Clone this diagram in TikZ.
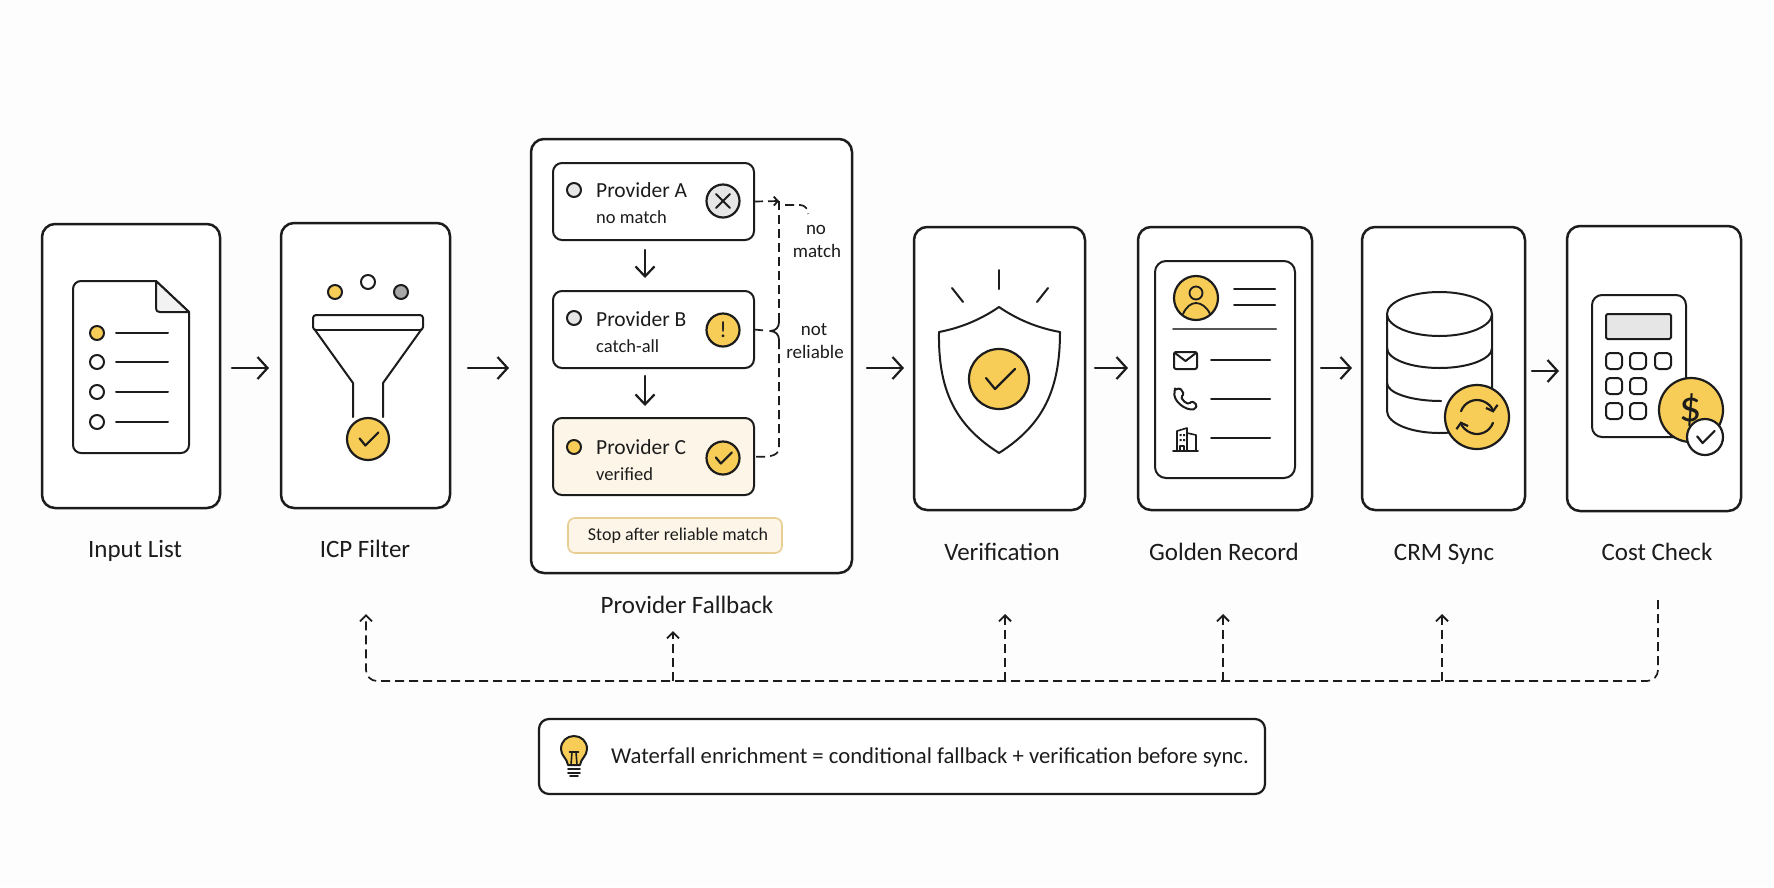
\documentclass[tikz,border=0pt]{standalone}
\usepackage{fontspec}
\setmainfont{Carlito}
\usetikzlibrary{arrows.meta,positioning}
\definecolor{ink}{HTML}{1C1C1C}
\definecolor{gold}{HTML}{F7CD57}
\definecolor{softgray}{HTML}{E6E6E6}
\definecolor{midgray}{HTML}{A8A8A8}
\definecolor{cream}{HTML}{FDF6E8}
\definecolor{creamline}{HTML}{E8CE93}
\definecolor{pagebg}{HTML}{FDFDFD}

\begin{document}
\begin{tikzpicture}[x=1pt,y=-1pt,line join=round,line cap=round]
        \tikzset{stage/.style={draw=ink,
                fill=white,
                line width=2.5pt,
                rounded corners=13pt,
                outer sep=0pt
        }}
        \tikzset{provider/.style={draw=ink,
                fill=white,
                line width=2pt,
                rounded corners=9pt,
                minimum width=201pt,
                minimum height=77pt,
                outer sep=0pt
        }}
        \tikzset{flow/.style={draw=ink,line width=2.2pt,-{Straight Barb[length=10pt,width=22pt,line width=2.2pt]}}}
        \tikzset{innerflow/.style={draw=ink,line width=2.2pt,-{Straight Barb[length=10pt,width=19pt,line width=2.2pt]}}}
        \tikzset{feedback/.style={draw=ink,line width=1.7pt,dash pattern=on 9pt off 5pt,line cap=butt}}
        \tikzset{feedhead/.style={feedback,-{Straight Barb[length=6pt,width=12pt,line width=1.8pt]}}}
        \tikzset{bracket/.style={draw=ink,line width=1.7pt,dash pattern=on 9pt off 5pt,line cap=butt}}
        \tikzset{dotmark/.style={circle,draw=ink,fill=white,line width=2pt,minimum size=14pt,inner sep=0pt}}
        \tikzset{badge/.style={circle,draw=ink,fill=gold,line width=2.2pt,inner sep=0pt,text=ink}}
        \tikzset{caption/.style={anchor=base,text=ink,font=\fontsize{25}{30}\selectfont}}
        \tikzset{title/.style={anchor=base west,inner sep=0pt,text=ink,font=\fontsize{21.5}{26}\selectfont}}
        \tikzset{subtitle/.style={anchor=base west,inner sep=0pt,text=ink,font=\fontsize{18.5}{23}\selectfont}}
        \tikzset{sidenote/.style={anchor=base,inner sep=0pt,text=ink,font=\fontsize{19}{23}\selectfont}}
        \tikzset{iconline/.style={draw=ink,line width=2pt}}
        \tikzset{tick/.pic={\draw[draw=ink,line width=2.2pt] (-13,-1) -- (-4,10) -- (16,-10);}}

        \useasboundingbox (0,0) rectangle (1774,887);
        \fill[pagebg] (0,0) rectangle (1774,887);

        \node[stage, minimum width=178pt, minimum height=284pt] (inputbox) at (131,366) {};
        \node[stage, minimum width=169pt, minimum height=285pt] (icpbox) at (365.5,365.5) {};
        \node[stage, minimum width=321pt, minimum height=434pt] (fallbackbox) at (691.5,356) {};
        \node[stage, minimum width=171pt, minimum height=283pt] (verifybox) at (999.5,368.5) {};
        \node[stage, minimum width=174pt, minimum height=283pt] (goldenbox) at (1225,368.5) {};
        \node[stage, minimum width=163pt, minimum height=283pt] (crmbox) at (1443.5,368.5) {};
        \node[stage, minimum width=174pt, minimum height=285pt] (costbox) at (1654,368.5) {};

        \node[caption] (inputlabel) at (135,557) {Input List};
        \node[caption] (icplabel) at (365,557) {ICP Filter};
        \node[caption] (fallbacklabel) at (687,613) {Provider Fallback};
        \node[caption] (verifylabel) at (1002,560) {Verification};
        \node[caption] (goldenlabel) at (1224,560) {Golden Record};
        \node[caption] (crmlabel) at (1444,560) {CRM Sync};
        \node[caption] (costlabel) at (1657,560) {Cost Check};

        \coordinate (flowrow) at (0,368);
        \draw[flow,shorten <=12pt,shorten >=12pt] (inputbox.east |- flowrow) -- (icpbox.west |- flowrow);
        \draw[flow,shorten <=18pt,shorten >=22pt] (icpbox.east |- flowrow) -- (fallbackbox.west |- flowrow);
        \draw[flow,shorten <=15pt,shorten >=10pt] (fallbackbox.east |- flowrow) -- (verifybox.west |- flowrow);
        \draw[flow,shorten <=10pt,shorten >=10pt] (verifybox.east |- flowrow) -- (goldenbox.west |- flowrow);
        \draw[flow,shorten <=9pt,shorten >=10pt] (goldenbox.east |- flowrow) -- (crmbox.west |- flowrow);
        \draw[flow,shorten <=7pt,shorten >=8pt] ([yshift=-3pt]crmbox.east |- flowrow) -- ([yshift=-3pt]costbox.west |- flowrow);

        % input list
        \draw[iconline,fill=white] (156,281) [rounded corners=8pt] -- (73,281) -- (73,453) -- (189,453) [sharp corners] -- (189,312) -- cycle;
        \draw[iconline,fill=softgray!50] (156,281) -- (189,312) -- (160,312) .. controls (157,312) and (156,311) .. (156,308) -- cycle;
        \node[dotmark,fill=gold] (inputdota) at (97,333) {};
        \node[dotmark] (inputdotb) at (97,362) {};
        \node[dotmark] (inputdotc) at (97,392) {};
        \node[dotmark] (inputdotd) at (97,422) {};
        \draw[iconline] (116,333) -- (168,333);
        \draw[iconline] (116,362) -- (168,362);
        \draw[iconline] (116,392) -- (168,392);
        \draw[iconline] (116,422) -- (168,422);

        % funnel
        \node[dotmark,fill=gold] (seeda) at (335,292) {};
        \node[dotmark] (seedb) at (368,282) {};
        \node[dotmark,fill=midgray] (seedc) at (401,292) {};
        \draw[iconline,rounded corners=3pt] (316,330) -- (313,330) -- (313,315) -- (423,315) -- (423,330) -- (420,330);
        \draw[iconline] (315,330) -- (421,330);
        \draw[iconline] (315,330) -- (353,383) -- (353,417);
        \draw[iconline] (421,330) -- (383,383) -- (383,417);
        \node[badge,minimum size=42pt] (icpcheck) at (368,439) {};
        \pic[scale=.65] at (icpcheck) {tick};

        % providers
        \node[provider] (providera) at (653.5,201.5) {};
        \node[provider,below=51pt of providera] (providerb) {};
        \node[provider,below=50pt of providerb,fill=cream] (providerc) {};
        \draw[innerflow,shorten <=10pt,shorten >=13pt] ([xshift=-8.5pt]providera.south) -- ([xshift=-8.5pt]providerb.north);
        \draw[innerflow,shorten <=8pt,shorten >=12pt] ([xshift=-8.5pt]providerb.south) -- ([xshift=-8.5pt]providerc.north);
        \node[dotmark,fill=softgray] (dota) at (574,190) {};
        \node[dotmark,fill=softgray] (dotb) at (574,318) {};
        \node[dotmark,fill=gold] (dotc) at (574,447) {};
        \node[title] (namea) at (596,197) {Provider A};
        \node[title] (nameb) at (596,326) {Provider B};
        \node[title] (namec) at (596,454) {Provider C};
        \node[subtitle] (resulta) at (596,223) {no match};
        \node[subtitle] (resultb) at (596,352) {catch-all};
        \node[subtitle] (resultc) at (596,480) {verified};
        \node[badge,fill=softgray,minimum size=33pt] (statusa) at (723,201) {};
        \draw[iconline] (716,194) -- (730,208);
        \draw[iconline] (730,194) -- (716,208);
        \node[badge,minimum size=33pt,font=\fontsize{23}{23}\selectfont] (statusb) at (723,330) {!};
        \node[badge,minimum size=33pt] (statusc) at (723,458) {};
        \pic[scale=.55] at (statusc) {tick};
        \node[draw=creamline,fill=cream,line width=1.6pt,rounded corners=7pt,minimum width=214pt,minimum height=35pt,outer sep=0pt,text=ink,font=\fontsize{18}{22}\selectfont] (stopnote) at (675,535.5) {\hspace*{6pt}Stop after reliable match};

        % bracket beside the providers
        \coordinate (bracetop) at (779,201);
        \coordinate (bracetip) at (770,331);
        \draw[bracket,-{Straight Barb[length=4pt,width=9pt,line width=1.8pt]}] (providera.east) -- (bracetop);
        \draw[bracket] (bracetop) -- (779,322);
        \draw[draw=ink,line width=1.8pt] (779,322) .. controls (779,327) and (776,331) .. (bracetip) .. controls (776,331) and (779,335) .. (779,340);
        \draw[bracket] (779,340) -- (779,447) .. controls (779,454) and (774,458) .. (providerc.east);
        \draw[bracket,shorten >=5pt] (providerb.east) -- (bracetip);
        \draw[bracket] (bracetop) ++(6,4) -- (800,205) .. controls (805,205) and (808,209) .. (808,214);
        \node[sidenote] (nomatcha) at (816,234) {no};
        \node[sidenote] (nomatchb) at (817,257) {match};
        \node[sidenote] (notreliablea) at (814,335) {not};
        \node[sidenote] (notreliableb) at (815,358) {reliable};

        % shield
        \draw[iconline] (999,270) -- (999,289);
        \draw[iconline] (952,288) -- (963,302);
        \draw[iconline] (1048,288) -- (1037,302);
        \draw[iconline] (999,307) .. controls (980,320) and (960,328) .. (939,332) .. controls (938,390) and (955,425) .. (999,453) .. controls (1043,425) and (1060,390) .. (1060,332) .. controls (1038,328) and (1018,320) .. (999,307) -- cycle;
        \node[badge,minimum size=60pt] (shieldcheck) at (999,379) {};
        \pic at (shieldcheck) {tick};

        % golden record
        \draw[iconline,rounded corners=11pt] (1155,261) rectangle (1295,478);
        \node[badge,minimum size=44pt] (avatar) at (1196,298) {};
        \draw[iconline,line width=1.8pt] (1196,293) circle[radius=6.5pt];
        \draw[iconline,line width=1.8pt] (1183,314) .. controls (1186,307) and (1191,303) .. (1196,303) .. controls (1201,303) and (1207,307) .. (1210,314);
        \draw[iconline] (1234,289) -- (1275,289);
        \draw[iconline] (1234,305) -- (1275,305);
        \draw[iconline,draw=ink!75] (1173,329) -- (1276,329);
        \draw[iconline,rounded corners=2pt] (1174,352) rectangle (1197,369);
        \draw[iconline] (1175,353) -- (1185.5,361) -- (1196,353);
        \draw[iconline,rounded corners=1.5pt] (1175,390) -- (1180,388) -- (1184,394) -- (1181,397) .. controls (1183,401) and (1186,403) .. (1189,404) -- (1192,401) -- (1197,405) -- (1195,409) .. controls (1186,411) and (1172,401) .. (1175,390) -- cycle;
        \draw[iconline,line width=1.6pt] (1177,451) -- (1177,431) -- (1187,428) -- (1187,451);
        \draw[iconline,line width=1.6pt] (1187,433) -- (1196,435) -- (1196,451);
        \draw[iconline,line width=1.6pt] (1173,451) -- (1198,451);
        \draw[iconline,line width=1.6pt] (1180,451) -- (1180,446) -- (1184,446) -- (1184,451);
        \fill[ink] (1179.5,434) rectangle (1181.5,436) (1183,434) rectangle (1185,436) (1179.5,439) rectangle (1181.5,441) (1183,439) rectangle (1185,441);
        \draw[iconline] (1211,360) -- (1270,360);
        \draw[iconline] (1211,399) -- (1270,399);
        \draw[iconline] (1211,438) -- (1270,438);

        % database
        \draw[iconline,fill=white] (1387,314) -- (1387,411) arc[start angle=180,end angle=360,x radius=52.5pt,y radius=22pt] -- (1492,314);
        \draw[iconline,fill=white] (1439.5,314) ellipse[x radius=52.5pt,y radius=22pt];
        \draw[iconline] (1387,348) arc[start angle=180,end angle=360,x radius=52.5pt,y radius=20pt];
        \draw[iconline] (1387,383) arc[start angle=180,end angle=270,x radius=54pt,y radius=18pt];
        \node[badge,minimum size=64pt] (syncbadge) at (1477,417) {};
        \draw[iconline,line width=2.2pt,-{Straight Barb[length=5pt,width=12pt,line width=2.2pt]}] (syncbadge.center) ++(160:17pt) arc[start angle=160,end angle=15,radius=17pt];
        \draw[iconline,line width=2.2pt,-{Straight Barb[length=5pt,width=12pt,line width=2.2pt]}] (syncbadge.center) ++(-20:17pt) arc[start angle=-20,end angle=-165,radius=17pt];

        % calculator
        \draw[iconline,fill=white,rounded corners=10pt] (1592,295) rectangle (1686,437);
        \draw[iconline,fill=softgray,rounded corners=1.5pt] (1606,314) rectangle (1671,339);
        \draw[iconline,rounded corners=4pt] (1606,353) rectangle (1622,369);
        \draw[iconline,rounded corners=4pt] (1630,353) rectangle (1646,369);
        \draw[iconline,rounded corners=4pt] (1655,353) rectangle (1671,369);
        \draw[iconline,rounded corners=4pt] (1606,378) rectangle (1622,394);
        \draw[iconline,rounded corners=4pt] (1630,378) rectangle (1646,394);
        \draw[iconline,rounded corners=4pt] (1606,403) rectangle (1622,419);
        \draw[iconline,rounded corners=4pt] (1630,403) rectangle (1646,419);
        \node[badge,minimum size=64pt,font=\fontsize{44}{44}\selectfont] (coin) at (1691,410) {\$};
        \node[badge,fill=white,minimum size=36pt] (coincheck) at (1705,437) {};
        \pic[scale=.6] at (coincheck) {tick};

        % feedback line
        \coordinate (costtail) at (1658,600);
        \coordinate (trunkrow) at (0,681);
        \coordinate (icphead) at (366,614);
        \coordinate (fallbackhead) at (673,631);
        \coordinate (verifyhead) at (1005,614);
        \coordinate (goldenhead) at (1223,614);
        \coordinate (crmhead) at (1442,614);
        \draw[feedhead,rounded corners=11pt] (costtail) -- (costtail |- trunkrow) -- (icphead |- trunkrow) -- (icphead);
        \draw[feedhead] (fallbackhead |- trunkrow) -- (fallbackhead);
        \draw[feedhead] (verifyhead |- trunkrow) -- (verifyhead);
        \draw[feedhead] (goldenhead |- trunkrow) -- (goldenhead);
        \draw[feedhead] (crmhead |- trunkrow) -- (crmhead);

        % note
        \node[stage,line width=2.2pt,rounded corners=10pt,minimum width=726pt,minimum height=75pt] (notebox) at (902,756.5) {};
        \draw[iconline,fill=gold] (568,765) .. controls (567,758) and (561,756) .. (561,749) .. controls (561,741) and (567,736) .. (574,736) .. controls (581,736) and (587,741) .. (587,749) .. controls (587,756) and (581,758) .. (580,765) -- cycle;
        \draw[iconline,line width=1.6pt] (571,765) -- (572,752) (577,765) -- (576,752) (569.5,752) -- (578.5,752);
        \draw[iconline,line width=1.6pt] (568,769) -- (580,769);
        \draw[iconline,line width=1.6pt] (568,773) -- (580,773);
        \draw[iconline,line width=1.6pt] (570,776) -- (578,776);
        \node[title,font=\fontsize{22.7}{27}\selectfont] (notetext) at (611,763) {Waterfall enrichment = conditional fallback + verification before sync.};
\end{tikzpicture}
\end{document}
